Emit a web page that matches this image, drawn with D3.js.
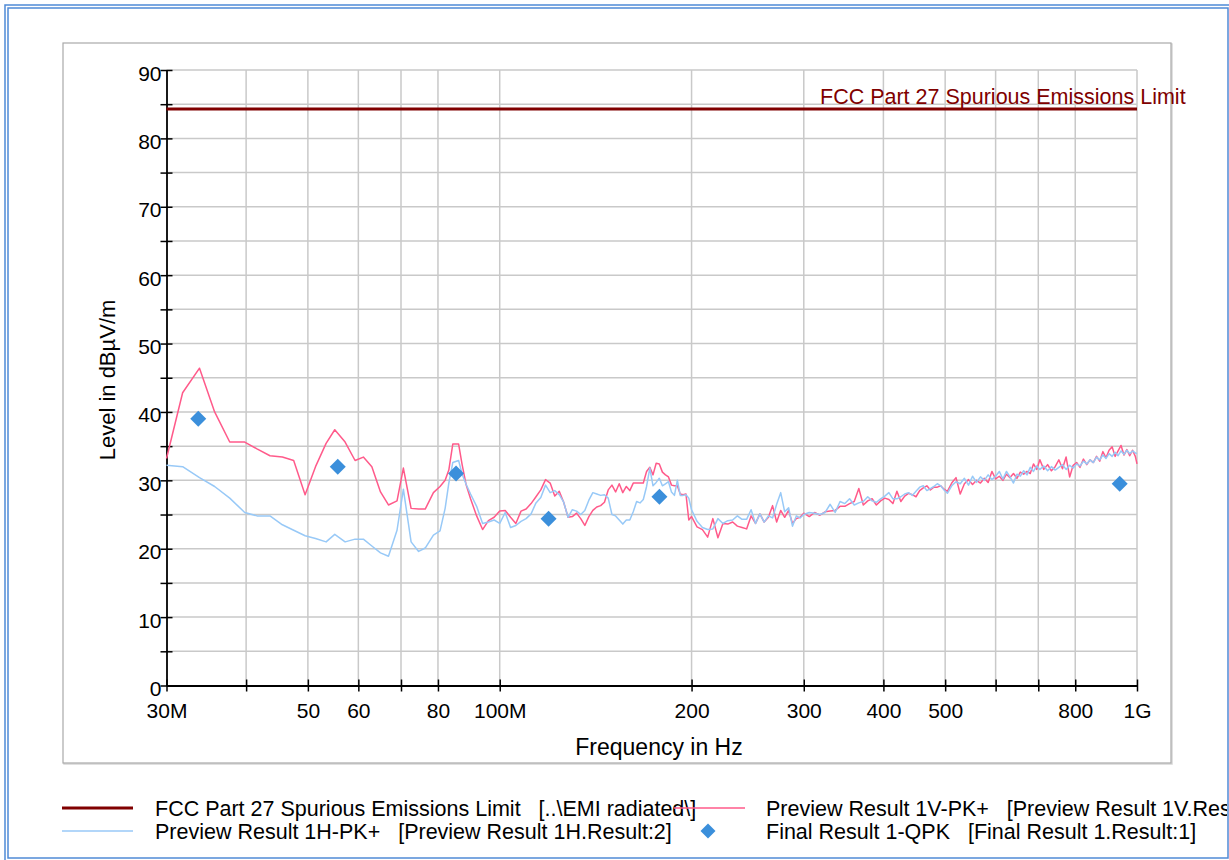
<!DOCTYPE html>
<html><head><meta charset="utf-8">
<script src="https://cdn.jsdelivr.net/npm/d3@7"></script>
<style>
html,body{margin:0;padding:0;background:#fff;}
svg{display:block;font-family:"Liberation Sans", Arial, sans-serif;}
</style></head><body>
<svg id="chart" width="1229" height="860"></svg>
<script>
// ---------------- data (MHz / dBµV/m) ----------------
const FREQ_MHZ = [
  30, 31.8, 33.8, 35.7, 37.7, 39.8, 41.6, 43.6, 45.6, 47.5, 49.5, 51.4, 53.4, 55.1, 57.2, 59.3, 61.1,
  63.0, 65.0, 66.9, 69.0, 70.6, 72.6, 74.6, 76.4, 78.7, 80.6, 82.1, 83.2, 84.4, 86.2, 87.3, 88.6,
  90, 92, 94, 96, 98, 100, 102, 104, 106, 108, 110, 112, 114, 116, 118, 120, 122, 124, 126, 128,
  130, 132, 134, 136, 138, 140, 142, 144, 146, 148, 150, 152, 154, 156, 158, 160, 162, 164, 166, 168,
  170, 172, 174, 176, 178, 180, 182, 184, 186, 188, 190, 192, 194, 196, 198, 200,
  204, 208, 212, 216, 220, 224, 228, 232, 236, 240, 244, 248, 252, 256, 260, 264, 268, 272, 276, 280,
  284, 288, 292, 296, 300,
  306, 312, 318, 324, 330, 336, 342, 348, 354, 360, 366, 372, 378, 384, 390, 396, 402, 408, 414, 420,
  426, 432, 438, 444, 450, 456, 462, 468, 474, 480, 486, 492, 498, 504,
  512, 520, 528, 536, 544, 552, 560, 568, 576, 584, 592, 600, 608, 616, 624, 632, 640, 648, 656, 664,
  672, 680, 688, 696, 704,
  714, 724, 734, 744, 754, 764, 774, 784, 794, 804, 814, 824, 834, 844, 854, 864, 874, 884, 894, 904,
  914, 924, 934, 944, 954, 964, 974, 984, 994, 1000
];
const PREVIEW_1V_PK = [
  33.2, 42.8, 46.4, 40.0, 35.6, 35.6, 34.6, 33.6, 33.4, 32.9, 27.9, 32.0, 35.4, 37.4, 35.6, 32.9, 33.4,
  32.0, 28.3, 26.4, 27.0, 31.8, 25.9, 25.8, 25.8, 28.2, 29.1, 30.0, 31.5, 35.3, 35.3, 32.3, 29.3,
  27.3, 24.8, 22.8, 24.1, 24.6, 25.5, 25.6, 24.6, 23.7, 25.5, 25.8, 26.6, 27.6, 28.6, 30.1, 29.6, 27.7, 28.4, 26.8, 24.6,
  24.7, 25.2, 24.4, 23.4, 24.7, 25.6, 26.1, 26.3, 26.8, 28.6, 29.3, 28.3, 29.5, 28.2, 29.1, 28.5, 29.6, 29.6, 29.6, 29.6,
  31.3, 31.9, 30.8, 32.5, 32.4, 31.2, 30.8, 30.5, 29.3, 29.2, 29.2, 28.0, 27.9, 28.0, 24.2, 24.7,
  23.2, 22.8, 21.7, 24.4, 21.6, 23.7, 23.6, 23.9, 23.3, 23.1, 22.9, 24.8, 23.7, 25.1, 23.9, 24.6, 26.3, 23.9, 25.6, 24.6,
  25.6, 23.7, 24.4, 24.6, 25.2,
  24.7, 25.3, 24.9, 25.4, 25.5, 25.6, 26.2, 26.2, 26.6, 26.9, 28.8, 26.4, 27.0, 27.3, 26.4, 27.0, 27.4, 27.2, 26.6, 28.4,
  26.9, 27.7, 28.1, 27.9, 27.6, 28.5, 28.9, 29.2, 28.6, 29.0, 29.0, 29.2, 28.7, 28.4,
  29.6, 30.4, 28.0, 29.5, 30.1, 29.4, 30.0, 29.6, 30.3, 29.7, 31.3, 30.2, 30.6, 30.0, 30.9, 30.4, 31.0, 30.3, 31.2, 30.9,
  31.3, 31.0, 32.4, 31.6, 33.0,
  31.6, 32.3, 31.4, 32.0, 33.0, 31.7, 33.4, 30.5, 32.2, 32.6, 31.9, 33.1, 32.3, 33.0, 32.6, 33.5, 32.8, 34.2, 33.3, 34.4,
  34.9, 33.5, 34.3, 35.1, 33.7, 34.5, 33.6, 34.4, 33.5, 32.4
];
const PREVIEW_1H_PK = [
  32.2, 32.0, 30.4, 29.1, 27.4, 25.3, 24.8, 24.8, 23.5, 22.7, 21.9, 21.5, 21.0, 22.1, 21.0, 21.4, 21.4,
  20.4, 19.4, 18.9, 22.7, 28.7, 21.0, 19.6, 20.1, 22.0, 22.6, 25.9, 29.6, 32.6, 32.9, 30.9, 29.4,
  28.0, 26.2, 23.7, 23.9, 24.2, 23.7, 25.3, 23.1, 23.4, 24.0, 24.4, 25.1, 26.7, 27.5, 29.3, 28.2, 28.5, 27.9, 26.8, 24.6,
  25.7, 25.5, 25.0, 25.6, 27.1, 28.2, 28.0, 27.8, 27.9, 27.4, 25.0, 24.8, 24.2, 23.6, 24.2, 24.2, 25.4, 26.9, 26.7, 27.2,
  29.1, 31.8, 29.2, 29.7, 30.3, 29.2, 29.5, 29.8, 28.3, 27.8, 30.0, 27.8, 27.8, 27.9, 27.4, 25.7,
  24.0, 23.1, 22.8, 22.9, 24.4, 23.7, 24.1, 24.2, 24.8, 24.3, 24.3, 25.7, 23.7, 25.1, 23.9, 24.8, 24.5, 26.5, 28.2, 25.4,
  26.0, 23.3, 24.8, 24.5, 25.0,
  25.3, 25.2, 25.0, 25.3, 26.5, 25.3, 26.9, 26.6, 27.3, 26.4, 26.7, 26.9, 27.6, 27.0, 26.8, 27.3, 27.7, 28.2, 27.3, 27.3,
  27.6, 28.0, 28.2, 27.8, 28.4, 29.0, 29.2, 28.5, 28.8, 29.1, 29.5, 29.2, 28.6, 28.1,
  29.2, 29.8, 29.5, 30.3, 29.3, 30.6, 29.7, 30.5, 30.0, 30.8, 30.1, 30.6, 31.3, 30.2, 31.3, 30.5, 29.6, 30.9, 30.6, 31.4,
  30.8, 31.9, 31.3, 32.1, 31.6,
  32.1, 31.4, 32.0, 31.5, 31.9, 32.3, 31.6, 32.2, 31.8, 32.4, 32.1, 32.8, 32.4, 33.0, 32.6, 33.4, 33.0, 33.7, 33.2, 33.9,
  33.5, 34.1, 33.6, 34.3, 33.8, 34.4, 33.9, 34.3, 34.0, 33.9
];
const FINAL_FREQ_MHZ = [33.65, 55.7, 85.4, 119.3, 178.1, 939.4];
const FINAL_QPK = [39.0, 32.0, 31.0, 24.4, 27.6, 29.5];
const LIMIT_FREQ_MHZ = [30, 1000];
const LIMIT_LEVEL = [84.3, 84.3];

const X_TICKS = [30, 40, 50, 60, 70, 80, 100, 200, 300, 400, 500, 600, 700, 800, 1000];
const X_TICK_LABELS = ["30M", "", "50", "60", "", "80", "100M", "200", "300", "400", "500", "", "", "800", "1G"];
const Y_TICKS = [0, 5, 10, 15, 20, 25, 30, 35, 40, 45, 50, 55, 60, 65, 70, 75, 80, 85, 90];
const Y_TICK_LABELS = ["0", "", "10", "", "20", "", "30", "", "40", "", "50", "", "60", "", "70", "", "80", "", "90"];
const X_TITLE = "Frequency in Hz";
const Y_TITLE = "Level in dBµV/m";
const LIMIT_LABEL = "FCC Part 27 Spurious Emissions Limit";
const LEGEND_LABELS = [
  "FCC Part 27 Spurious Emissions Limit   [..\\EMI radiated\\]",
  "Preview Result 1V-PK+   [Preview Result 1V.Result:1]",
  "Preview Result 1H-PK+   [Preview Result 1H.Result:2]",
  "Final Result 1-QPK   [Final Result 1.Result:1]"
];

// ---------------- styles ----------------
const C_LIMIT = "#800000", C_V = "#ff5a8a", C_H = "#98c9f7", C_FINAL = "#3b8fdb";
const FONT = 21;

const svg = d3.select("#chart");
const W = 1229, H = 860;
const P = {left: 166.5, right: 1137, top: 70, bottom: 685.5};

// blue frame
svg.append("rect").attr("x", 5).attr("y", 5).attr("width", W).attr("height", H)
  .attr("fill", "none").attr("stroke", "#4f8ad6").attr("stroke-width", 1.5);
svg.append("rect").attr("x", 8).attr("y", 8).attr("width", 1220).attr("height", 850)
  .attr("fill", "none").attr("stroke", "#4f8ad6").attr("stroke-width", 1.5);

// chart panel
svg.append("rect").attr("x", 64).attr("y", 44).attr("width", 1108).attr("height", 720)
  .attr("fill", "none").attr("stroke", "#d6d6d6").attr("stroke-width", 1.5);
svg.append("rect").attr("x", 63).attr("y", 43).attr("width", 1108).attr("height", 720)
  .attr("fill", "#fff").attr("stroke", "#a9a9a9").attr("stroke-width", 1.2);

const x = d3.scaleLog().domain([30, 1000]).range([P.left, P.right]);
const y = d3.scaleLinear().domain([0, 90]).range([P.bottom, P.top]);

// grid
const grid = svg.append("g").attr("stroke", "#c9c9c9").attr("stroke-width", 1.5);
grid.selectAll("line.v").data(X_TICKS.slice(1)).join("line")
  .attr("x1", d => x(d)).attr("x2", d => x(d)).attr("y1", P.top).attr("y2", P.bottom);
grid.selectAll("line.h").data(Y_TICKS.slice(1)).join("line")
  .attr("x1", P.left).attr("x2", P.right).attr("y1", d => y(d)).attr("y2", d => y(d));

// axes
const xAxis = svg.append("g").attr("transform", `translate(0,${P.bottom})`)
  .call(d3.axisBottom(x).tickValues(X_TICKS).tickFormat((d, i) => X_TICK_LABELS[i])
    .tickSizeInner(6).tickSizeOuter(0).tickPadding(0));
xAxis.select(".domain").attr("stroke", "#000").attr("stroke-width", 1.8);
xAxis.selectAll(".tick line").attr("y1", -6).attr("y2", 6).attr("stroke", "#000").attr("stroke-width", 1.5);
xAxis.selectAll(".tick text").attr("y", 17.6).attr("dy", "0.71em")
  .attr("font-size", FONT).attr("font-family", "Liberation Sans, Arial, sans-serif").attr("fill", "#000");

const yAxis = svg.append("g").attr("transform", `translate(${P.left},0)`)
  .call(d3.axisLeft(y).tickValues(Y_TICKS).tickFormat((d, i) => Y_TICK_LABELS[i])
    .tickSizeInner(6).tickSizeOuter(0).tickPadding(0));
yAxis.select(".domain").attr("stroke", "#000").attr("stroke-width", 1.8);
yAxis.selectAll(".tick line").attr("x1", -6).attr("x2", 6).attr("stroke", "#000").attr("stroke-width", 1.5);
yAxis.selectAll(".tick text").attr("x", -5).attr("dy", 10)
  .attr("font-size", FONT).attr("font-family", "Liberation Sans, Arial, sans-serif").attr("fill", "#000");

// titles
svg.append("text").attr("x", 659).attr("y", 755).attr("text-anchor", "middle")
  .attr("font-size", 23).attr("fill", "#000").text(X_TITLE);
svg.append("text").attr("transform", "translate(115,380) rotate(-90)").attr("text-anchor", "middle")
  .attr("font-size", 22).attr("fill", "#000").text(Y_TITLE);

// limit line
const line = d3.line().x(d => x(d[0])).y(d => y(d[1]));
svg.append("path").datum(d3.zip(LIMIT_FREQ_MHZ, LIMIT_LEVEL)).attr("d", line)
  .attr("fill", "none").attr("stroke", C_LIMIT).attr("stroke-width", 3);
svg.append("text").attr("x", 820).attr("y", y(LIMIT_LEVEL[0]) - 4.5)
  .attr("font-size", 21.5).attr("fill", C_LIMIT).text(LIMIT_LABEL);

// preview traces
svg.append("path").datum(d3.zip(FREQ_MHZ, PREVIEW_1V_PK)).attr("d", line)
  .attr("fill", "none").attr("stroke", C_V).attr("stroke-width", 1.5).attr("stroke-linejoin", "round");
svg.append("path").datum(d3.zip(FREQ_MHZ, PREVIEW_1H_PK)).attr("d", line)
  .attr("fill", "none").attr("stroke", C_H).attr("stroke-width", 1.5).attr("stroke-linejoin", "round");

// final results
const diamond = "M0,-8L8,0L0,8L-8,0Z";
svg.append("g").selectAll("path").data(d3.zip(FINAL_FREQ_MHZ, FINAL_QPK)).join("path")
  .attr("d", diamond).attr("transform", d => `translate(${x(d[0])},${y(d[1])})`).attr("fill", C_FINAL);

// legend (the reference clips the long right-hand entry at the frame)
svg.append("clipPath").attr("id", "legclip").append("rect")
  .attr("x", 0).attr("y", 780).attr("width", 1227).attr("height", 78);
const leg = svg.append("g").attr("clip-path", "url(#legclip)").attr("font-size", 21.5).attr("fill", "#000");
const legItems = [
  {x: 62, y: 808, label: LEGEND_LABELS[0], type: "line", color: C_LIMIT, w: 3},
  {x: 62, y: 831, label: LEGEND_LABELS[2], type: "line", color: C_H, w: 1.5},
  {x: 674, y: 808, label: LEGEND_LABELS[1], type: "line", color: C_V, w: 1.5},
  {x: 674, y: 831, label: LEGEND_LABELS[3], type: "diamond", color: C_FINAL}
];
legItems.forEach(it => {
  const tx = it.x < 300 ? 155 : 766;
  leg.append("text").attr("x", tx).attr("y", it.y + 7.5).style("white-space", "pre").text(it.label);
});
legItems.forEach(it => {
  if (it.type === "line") {
    leg.append("line").attr("x1", it.x).attr("x2", it.x + 71).attr("y1", it.y).attr("y2", it.y)
      .attr("stroke", it.color).attr("stroke-width", it.w);
  } else {
    leg.append("path").attr("d", "M0,-7.5L7.5,0L0,7.5L-7.5,0Z").attr("transform", `translate(${it.x + 34},${it.y})`).attr("fill", it.color);
  }
});
</script>
</body></html>
